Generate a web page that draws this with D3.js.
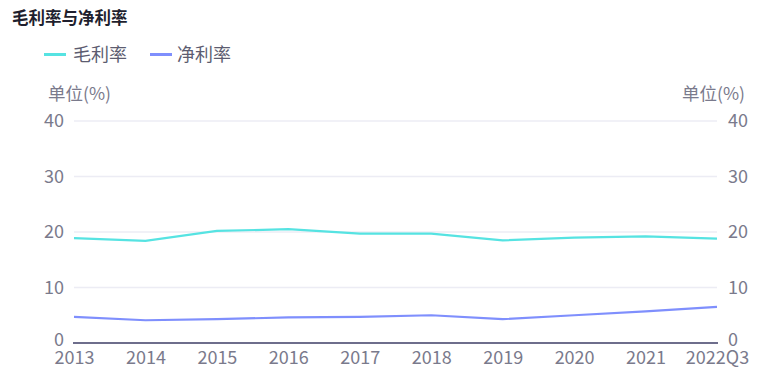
<!DOCTYPE html>
<html><head><meta charset="utf-8">
<script src="https://cdn.jsdelivr.net/npm/d3@7"></script>
<style>body{margin:0;background:#fff;} text{font-family:"Noto Sans CJK SC","Noto Sans",sans-serif;}</style>
</head><body><svg id="c" width="768" height="384"></svg>
<script>
const categories = ["2013","2014","2015","2016","2017","2018","2019","2020","2021","2022Q3"];
const grossMargin = [18.9,18.4,20.2,20.5,19.7,19.7,18.5,19.0,19.2,18.8];
const netMargin = [4.7,4.1,4.3,4.6,4.7,5.0,4.3,5.0,5.7,6.5];
const yTicks = [0,10,20,30,40];
const seriesNames = ["毛利率","净利率"];
const colors = ["#56e3e2","#7f8ffd"];

const svg = d3.select("#c");
const x = d3.scalePoint().domain(categories).range([74,717]);
const y = d3.scaleLinear().domain([0,40]).range([343,121]);
const txt = "#7a7a8c";

svg.append("text").attr("x",12).attr("y",24).attr("font-size",16.5).attr("font-weight","bold").attr("fill","#1f1f2e").text("毛利率与净利率");

const lg = [[44,73],[150,177]];
seriesNames.forEach((n,i)=>{
  svg.append("line").attr("x1",lg[i][0]).attr("x2",lg[i][0]+22).attr("y1",54.5).attr("y2",54.5).attr("stroke",colors[i]).attr("stroke-width",3);
  svg.append("text").attr("x",lg[i][1]).attr("y",60.5).attr("font-size",18).attr("fill","#5c5c70").text(n);
});

svg.append("text").attr("x",48).attr("y",100).attr("font-size",17.5).attr("fill",txt).text("单位(%)");
svg.append("text").attr("x",745).attr("y",100).attr("text-anchor","end").attr("font-size",17.5).attr("fill",txt).text("单位(%)");

svg.append("g").selectAll("line").data(yTicks.filter(d=>d>0)).join("line")
  .attr("x1",74).attr("x2",717).attr("y1",d=>y(d)).attr("y2",d=>y(d)).attr("stroke","#ececf4").attr("stroke-width",1.5);

const yl = d3.axisLeft(y).tickValues(yTicks).tickSize(0).tickPadding(9);
const gl = svg.append("g").attr("transform","translate(73,0)").call(yl);
const yr = d3.axisRight(y).tickValues(yTicks).tickSize(0).tickPadding(10);
const gr = svg.append("g").attr("transform","translate(718,0)").call(yr);
[gl,gr].forEach(g=>{g.select(".domain").remove(); g.selectAll("text").attr("font-size",18).attr("fill",txt).attr("font-family","'Noto Sans CJK SC',sans-serif");});
gl.selectAll(".tick").filter(d=>d===0).select("text").attr("dy","0.15em");
gr.selectAll(".tick").filter(d=>d===0).select("text").attr("dy","0.15em");

const xa = d3.axisBottom(x).tickSize(0).tickPadding(8);
const gx = svg.append("g").attr("transform","translate(0,343)").call(xa);
gx.select(".domain").attr("stroke","#6e6e8c").attr("stroke-width",2).attr("d","M73,0H718");
gx.selectAll("text").attr("font-size",18).attr("fill",txt).attr("font-family","'Noto Sans CJK SC',sans-serif");

const line = d3.line().x((d,i)=>x(categories[i])).y(d=>y(d));
[grossMargin,netMargin].forEach((s,i)=>{
  svg.append("path").datum(s).attr("d",line).attr("fill","none").attr("stroke",colors[i]).attr("stroke-width",2.2);
});
</script></body></html>
